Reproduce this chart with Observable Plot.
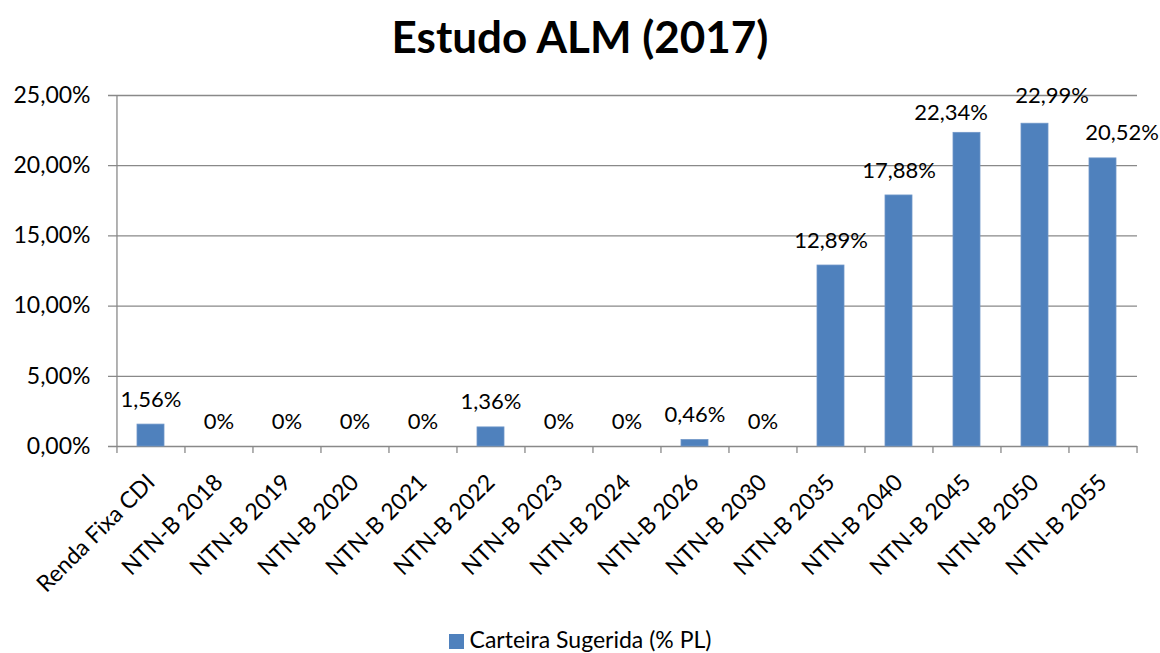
<!DOCTYPE html>
<html>
<head>
<meta charset="utf-8">
<script src="https://cdn.jsdelivr.net/npm/d3@7"></script>
<script src="https://cdn.jsdelivr.net/npm/@observablehq/plot@0.6"></script>
<style>
  body { margin: 0; background: #fff; font-family: Lato, "Open Sans", sans-serif; }
  #wrap { width: 1160px; height: 653px; position: relative; }
  #title { height: 70px; text-align: center; font-size: 44px; font-weight: bold; line-height: 72px; color: #000; }
  #legend { position: absolute; top: 625px; left: 0; width: 1160px; text-align: center; font-size: 23px; color: #000; }
  #legend .sw { display: inline-block; width: 15px; height: 15px; background: #4F81BD; margin-right: 6px; vertical-align: -1px; }
  svg text { font-family: Lato, "Open Sans", sans-serif; }
</style>
</head>
<body>
<div id="wrap">
  <div id="title">Estudo ALM (2017)</div>
  <div id="chart"></div>
  <div id="legend"><span class="sw"></span>Carteira Sugerida (% PL)</div>
</div>
<script>
const categories = ["Renda Fixa CDI","NTN-B 2018","NTN-B 2019","NTN-B 2020","NTN-B 2021","NTN-B 2022","NTN-B 2023","NTN-B 2024","NTN-B 2026","NTN-B 2030","NTN-B 2035","NTN-B 2040","NTN-B 2045","NTN-B 2050","NTN-B 2055"];
const values = [1.56, 0, 0, 0, 0, 1.36, 0, 0, 0.46, 0, 12.89, 17.88, 22.34, 22.99, 20.52];
const valueLabels = ["1,56%","0%","0%","0%","0%","1,36%","0%","0%","0,46%","0%","12,89%","17,88%","22,34%","22,99%","20,52%"];
const yTicks = [0, 5, 10, 15, 20, 25];

const data = categories.map((c, i) => ({cat: c, v: values[i], label: valueLabels[i]}));

const width = 1160, height = 545;
const marginLeft = 116, marginRight = 23, marginTop = 25, marginBottom = 169;
const bw = (width - marginLeft - marginRight) / categories.length;
const fmt = d => d.toFixed(2).replace(".", ",") + "%";
const grey = "#898989";

// label placement tweaks (Excel nudged a few labels sideways to avoid overlap)
const nudged = {"NTN-B 2045": [-16, -20], "NTN-B 2050": [17, -28], "NTN-B 2055": [19, -25]};
const plain = data.filter(d => !(d.cat in nudged));
const labelMarks = [
  Plot.text(plain, {x: "cat", y: "v", text: "label", dy: -25, fontSize: 22, fill: "#000", lineAnchor: "middle"}),
  ...Object.entries(nudged).map(([c, [dx, dy]]) =>
    Plot.text(data.filter(d => d.cat === c), {x: "cat", y: "v", text: "label", dx, dy, fontSize: 22, fill: "#000", lineAnchor: "middle"}))
];

const chart = Plot.plot({
  width, height, marginLeft, marginRight, marginTop, marginBottom,
  style: {fontSize: "23px", color: "#000", background: "#fff"},
  x: {domain: categories, paddingInner: 0.6, paddingOuter: 0.3, label: null},
  y: {domain: [0, 25], label: null},
  marks: [
    Plot.ruleY(yTicks, {stroke: grey, strokeWidth: 1.3, insetLeft: -8}),
    Plot.axisY({ticks: yTicks, tickFormat: fmt, tickSize: 0, tickPadding: 26, fontSize: 23, label: null}),
    Plot.ruleX([categories[0]], {y1: 0, y2: 25, dx: -bw / 2, stroke: grey, strokeWidth: 1.3}),
    Plot.ruleX(categories, {y1: 0, y2: -0.5, dx: -bw / 2, stroke: grey, strokeWidth: 1.3}),
    Plot.ruleX([categories[categories.length - 1]], {y1: 0, y2: -0.5, dx: bw / 2, stroke: grey, strokeWidth: 1.3}),
    Plot.barY(data, {x: "cat", y: "v", fill: "#4F81BD", stroke: "#6f96c8", strokeWidth: 0.8}),
    ...labelMarks,
    Plot.axisX({tickSize: 0, tickRotate: -45, tickPadding: 32, fontSize: 23, label: null})
  ]
});
document.getElementById("chart").appendChild(chart);
</script>
</body>
</html>
